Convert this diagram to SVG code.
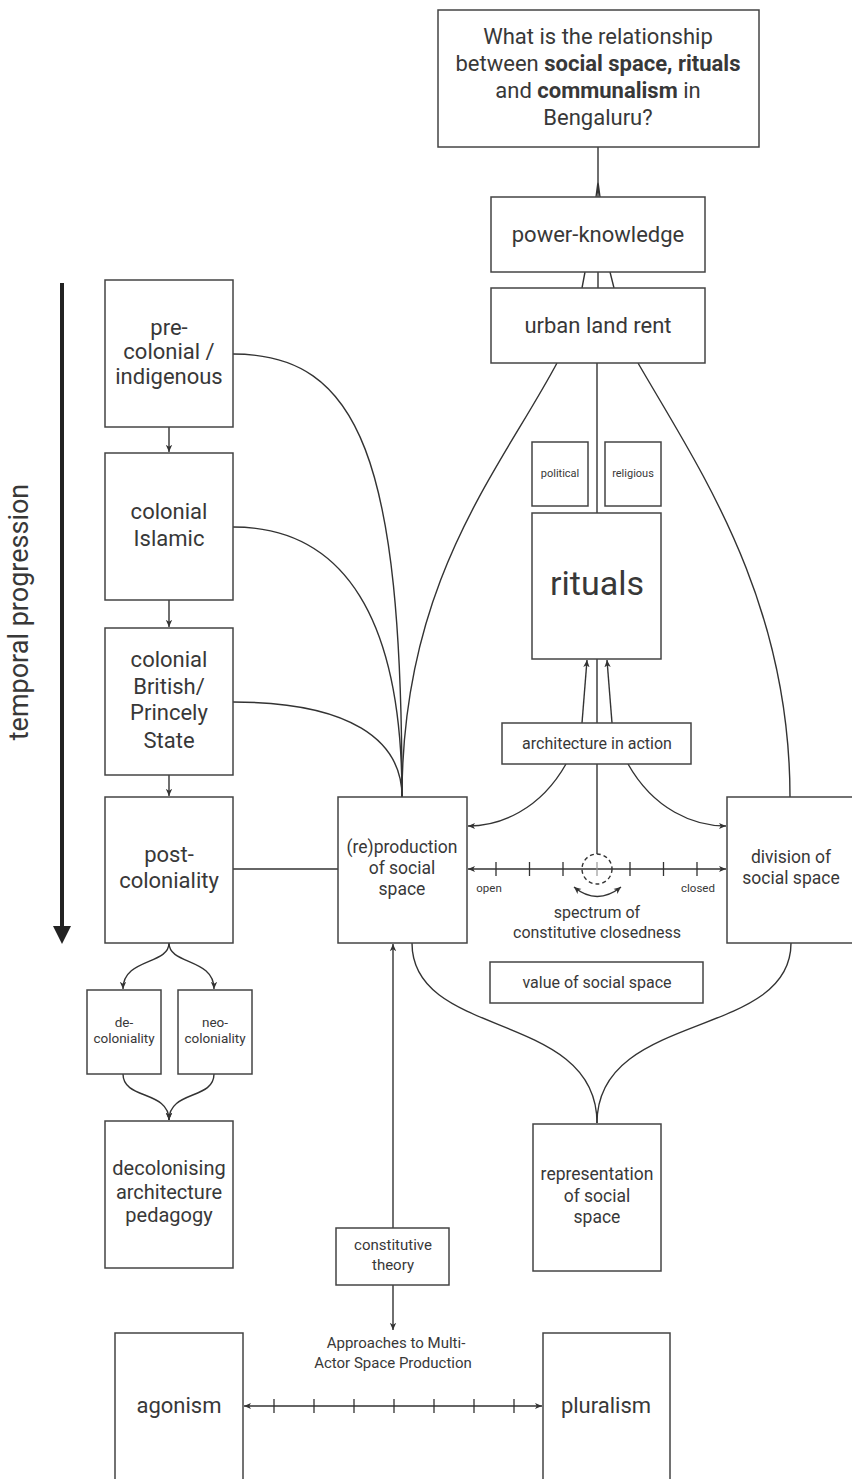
<svg xmlns="http://www.w3.org/2000/svg" width="852" height="1479" viewBox="0 0 852 1479">
<defs>
<style>
.box{fill:#fff;stroke:#444;stroke-width:1.5}
.c{fill:none;stroke:#333;stroke-width:1.4}
.tk{fill:none;stroke:#333;stroke-width:1.3}
text{font-family:Roboto,"Liberation Sans",sans-serif;fill:#383838;text-anchor:middle}
.t22{font-size:22px}
.t17{font-size:17.5px}
.t16{font-size:16px}
.t15{font-size:15px}
.t13{font-size:13.5px}
.t11{font-size:11.5px}
.b{font-weight:700}
</style>
<marker id="ah" viewBox="0 0 10 10" refX="9" refY="5" markerWidth="8" markerHeight="8" orient="auto-start-reverse" markerUnits="userSpaceOnUse">
<path d="M0,1 L9,5 L0,9 L2.5,5 z" fill="#333"/>
</marker>
</defs>
<rect width="852" height="1479" fill="#fff"/>

<g id="temporal-progression">
<line x1="62" y1="283" x2="62" y2="928" stroke="#222" stroke-width="4"/>
<polygon points="53,926 71,926 62,944" fill="#222"/>
<text class="t" transform="translate(28,612) rotate(-90)" style="font-size:27px">temporal progression</text>
</g>

<g id="connectors">
<path class="c" d="M598,147 L598,182 M598,182 L596,197 M598,182 L598,197 M598,182 L600,197"/>
<path class="c" d="M585,272 L582,288 M598,272 L598,288 M610,272 L614,288"/>
<path class="c" d="M597,363 L597,513"/>
<path class="c" d="M557,363 C500,470 402,580 402,797"/>
<path class="c" d="M638,363 C700,470 790,600 790,797"/>
<path class="c" d="M233,354 C360,354 402,460 402,797"/>
<path class="c" d="M233,527 C345,527 402,620 402,797"/>
<path class="c" d="M233,702 C350,702 402,740 402,797"/>
<path class="c" d="M233,869 L338,869"/>
<path class="c" d="M169,427 L169,452" marker-end="url(#ah)"/>
<path class="c" d="M169,600 L169,627" marker-end="url(#ah)"/>
<path class="c" d="M169,775 L169,796" marker-end="url(#ah)"/>
<path class="c" d="M169,943 C169,965 123,958 123,989" marker-end="url(#ah)"/>
<path class="c" d="M169,943 C169,965 214,958 214,989" marker-end="url(#ah)"/>
<path class="c" d="M123,1074 C123,1100 169,1090 169,1120" marker-end="url(#ah)"/>
<path class="c" d="M214,1074 C214,1100 169,1090 169,1120" marker-end="url(#ah)"/>
<path class="c" d="M582,723 L587,660" marker-end="url(#ah)"/>
<path class="c" d="M612,723 L607,660" marker-end="url(#ah)"/>
<path class="c" d="M597,659 L597,854"/>
<path class="c" d="M566,764 C540,810 500,826 468,826" marker-end="url(#ah)"/>
<path class="c" d="M628,764 C654,810 694,826 726,826" marker-end="url(#ah)"/>
<path class="c" d="M468,869 L726,869" marker-start="url(#ah)" marker-end="url(#ah)"/>
<path class="tk" d="M496,862 V876 M529.5,862 V876 M563,862 V876 M630,862 V876 M663.5,862 V876 M697,862 V876"/>
<path d="M597,862 V876" stroke="#999" stroke-width="1.2"/>
<circle cx="597" cy="869" r="15" fill="none" stroke="#333" stroke-width="1.4" stroke-dasharray="4,3"/>
<path class="c" d="M574,887 Q597,906 621,887" marker-start="url(#ah)" marker-end="url(#ah)"/>
<path class="c" d="M412,943 C412,1040 597,1010 597,1123"/>
<path class="c" d="M791,943 C791,1040 597,1010 597,1123"/>
<path class="c" d="M393,1228 L393,944" marker-end="url(#ah)"/>
<path class="c" d="M393,1285 L393,1330" marker-end="url(#ah)"/>
<path class="c" d="M244,1406 L542,1406" marker-start="url(#ah)" marker-end="url(#ah)"/>
<path class="tk" d="M274,1399 V1413 M314,1399 V1413 M354,1399 V1413 M394,1399 V1413 M434,1399 V1413 M474,1399 V1413 M514,1399 V1413"/>
<text class="t11" x="489" y="892">open</text>
<text class="t11" x="698" y="892">closed</text>
<text class="t16" x="597" y="918">spectrum of</text>
<text class="t16" x="597" y="938">constitutive closedness</text>
<text class="t15" x="396" y="1348">Approaches to Multi-</text>
<text class="t15" x="393" y="1368">Actor Space Production</text>
</g>

<g id="question">
<rect class="box" x="438" y="10" width="321" height="137"/>
<text class="t22" x="598" y="44">What is the relationship</text>
<text class="t22" x="598" y="71">between <tspan class="b">social space, rituals</tspan></text>
<text class="t22" x="598" y="98">and <tspan class="b">communalism</tspan> in</text>
<text class="t22" x="598" y="125">Bengaluru?</text>
</g>
<g id="power-knowledge">
<rect class="box" x="491" y="197" width="214" height="75"/>
<text class="t22" x="598" y="242">power-knowledge</text>
</g>
<g id="urban-land-rent">
<rect class="box" x="491" y="288" width="214" height="75"/>
<text class="t22" x="598" y="333">urban land rent</text>
</g>
<g id="political">
<rect class="box" x="532" y="442" width="56" height="64"/>
<text x="560" y="477" style="font-size:11px">political</text>
</g>
<g id="religious">
<rect class="box" x="605" y="442" width="56" height="64"/>
<text x="633" y="477" style="font-size:11px">religious</text>
</g>
<g id="rituals">
<rect class="box" x="532" y="513" width="129" height="146"/>
<text x="597" y="595" style="font-size:34px">rituals</text>
</g>
<g id="architecture-in-action">
<rect class="box" x="502" y="723" width="189" height="41"/>
<text class="t16" x="597" y="749">architecture in action</text>
</g>
<g id="reproduction">
<rect class="box" x="338" y="797" width="129" height="146"/>
<text class="t17" x="402" y="853">(re)production</text>
<text class="t17" x="402" y="874">of social</text>
<text class="t17" x="402" y="895">space</text>
</g>
<g id="division">
<rect class="box" x="727" y="797" width="130" height="146"/>
<text class="t17" x="791" y="863">division of</text>
<text class="t17" x="791" y="884">social space</text>
</g>
<g id="value">
<rect class="box" x="490" y="962" width="213" height="41"/>
<text class="t16" x="597" y="988">value of social space</text>
</g>
<g id="representation">
<rect class="box" x="533" y="1124" width="128" height="147"/>
<text class="t17" x="597" y="1180">representation</text>
<text class="t17" x="597" y="1202">of social</text>
<text class="t17" x="597" y="1223">space</text>
</g>
<g id="pre-colonial">
<rect class="box" x="105" y="280" width="128" height="147"/>
<text class="t22" x="169" y="335">pre-</text>
<text class="t22" x="169" y="359">colonial /</text>
<text class="t22" x="169" y="384">indigenous</text>
</g>
<g id="colonial-islamic">
<rect class="box" x="105" y="453" width="128" height="147"/>
<text class="t22" x="169" y="519">colonial</text>
<text class="t22" x="169" y="546">Islamic</text>
</g>
<g id="colonial-british">
<rect class="box" x="105" y="628" width="128" height="147"/>
<text class="t22" x="169" y="667">colonial</text>
<text class="t22" x="169" y="694">British/</text>
<text class="t22" x="169" y="720">Princely</text>
<text class="t22" x="169" y="748">State</text>
</g>
<g id="post-coloniality">
<rect class="box" x="105" y="797" width="128" height="146"/>
<text class="t22" x="169" y="862">post-</text>
<text class="t22" x="169" y="888">coloniality</text>
</g>
<g id="de-coloniality">
<rect class="box" x="87" y="990" width="74" height="84"/>
<text class="t13" x="124" y="1027">de-</text>
<text class="t13" x="124" y="1043">coloniality</text>
</g>
<g id="neo-coloniality">
<rect class="box" x="178" y="990" width="74" height="84"/>
<text class="t13" x="215" y="1027">neo-</text>
<text class="t13" x="215" y="1043">coloniality</text>
</g>
<g id="decolonising">
<rect class="box" x="105" y="1121" width="128" height="147"/>
<text x="169" y="1175" style="font-size:20px">decolonising</text>
<text x="169" y="1199" style="font-size:20px">architecture</text>
<text x="169" y="1222" style="font-size:20px">pedagogy</text>
</g>
<g id="constitutive-theory">
<rect class="box" x="336" y="1228" width="113" height="57"/>
<text class="t15" x="393" y="1250">constitutive</text>
<text class="t15" x="393" y="1270">theory</text>
</g>
<g id="agonism">
<rect class="box" x="115" y="1333" width="128" height="160"/>
<text class="t22" x="179" y="1413">agonism</text>
</g>
<g id="pluralism">
<rect class="box" x="543" y="1333" width="127" height="160"/>
<text class="t22" x="606" y="1413">pluralism</text>
</g>
</svg>
